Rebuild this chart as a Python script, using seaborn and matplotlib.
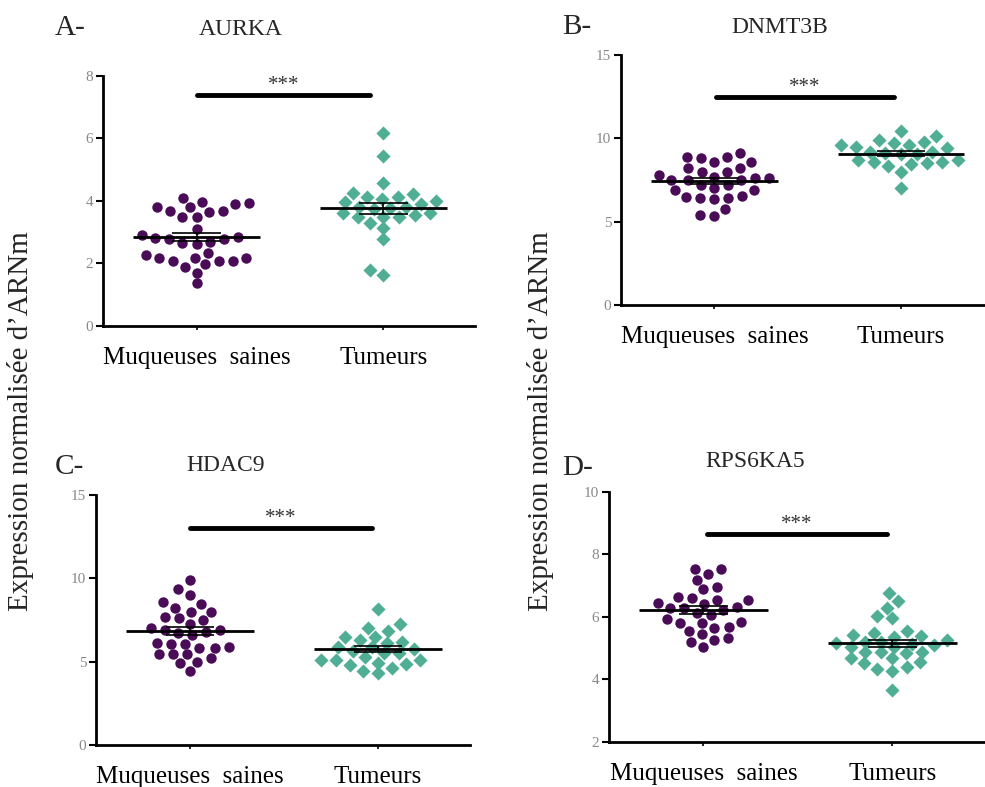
import numpy as np
import pandas as pd
import matplotlib
matplotlib.use('Agg')
import matplotlib.pyplot as plt
import seaborn as sns

# ------------------------------- data -------------------------------
groups = ['Muqueuses  saines', 'Tumeurs']

aurka_sain = [3.82, 3.69, 3.64, 3.93, 4.09, 3.98, 3.68, 3.80, 3.90, 3.50, 3.50,
              3.09, 2.77, 2.77, 2.86, 2.61, 2.65, 2.91, 2.80, 2.70,
              2.33, 2.27, 2.19, 2.19, 2.08, 2.08, 2.08, 2.19, 1.97, 1.90, 1.71, 1.37]
aurka_tum = [6.17, 5.45, 4.59, 4.27, 4.12, 4.21, 4.05, 4.14, 4.00, 3.98,
             3.55, 3.50, 3.77, 3.90, 3.73, 3.48, 3.48, 3.13, 3.61, 3.29,
             2.78, 1.79, 1.62, 3.82, 3.82, 3.60]

dnmt3b_sain = [9.1, 8.9, 8.6, 8.6, 8.8, 8.9, 8.2, 8.0, 8.0, 8.2,
               7.8, 7.6, 7.5, 7.5, 7.5, 7.6, 7.7, 7.04, 6.9, 6.9, 7.2, 7.2,
               6.5, 6.4, 6.36, 6.44, 6.56, 5.76, 5.36, 5.4]
dnmt3b_tum = [10.46, 10.14, 9.9, 9.74, 9.58, 9.5, 9.58, 9.8, 9.4, 9.2, 9.06, 9.1,
              9.06, 9.2, 8.7, 8.6, 8.46, 8.5, 8.6, 8.7, 8.36, 8.0, 7.04]

hdac9_sain = [9.9, 9.36, 9.0, 8.44, 8.56, 8.24, 8.0, 8.0, 7.64, 7.5, 7.7, 7.24, 7.0,
              6.9, 6.9, 6.8, 6.7, 6.6, 6.06, 5.9, 5.8, 6.14, 5.8, 6.06,
              5.44, 5.44, 5.44, 5.2, 5.0, 4.9, 4.46]
hdac9_tum = [8.16, 7.04, 7.24, 6.86, 6.5, 6.5, 6.1, 6.3, 6.2, 5.9, 5.66, 5.9, 5.74,
             5.5, 5.1, 4.86, 4.6, 5.1, 4.44, 4.3, 4.8, 4.94, 5.1, 5.3, 5.5]

rps6ka5_sain = [7.53, 7.55, 7.39, 7.18, 6.88, 6.97, 6.54, 6.6, 6.65, 6.54, 6.44, 6.41,
                6.28, 6.28, 6.22, 6.33, 6.12, 6.06, 5.85, 5.8, 5.82, 5.93, 5.64, 5.69,
                5.56, 5.46, 5.34, 5.27, 5.21, 5.05]
rps6ka5_tum = [6.78, 6.51, 6.28, 5.98, 6.03, 5.56, 5.5, 5.39, 5.37, 5.43, 5.1, 5.03,
               5.21, 5.14, 5.21, 5.27, 5.16, 5.05, 4.89, 4.84, 4.89, 4.89, 4.68, 4.68,
               4.52, 4.57, 4.33, 4.41, 4.28, 3.65]

genes = ['AURKA', 'DNMT3B', 'HDAC9', 'RPS6KA5']
letters = ['A-', 'B-', 'C-', 'D-']
yticks = [[0, 2, 4, 6, 8], [0, 5, 10, 15], [0, 5, 10, 15], [2, 4, 6, 8, 10]]
sig_bar = [7.4, 12.5, 13.0, 8.66]
sig_x = [(0.0, 0.93), (0.01, 0.96), (0.0, 0.97), (0.02, 0.97)]

values = {
    'AURKA': (aurka_sain, aurka_tum),
    'DNMT3B': (dnmt3b_sain, dnmt3b_tum),
    'HDAC9': (hdac9_sain, hdac9_tum),
    'RPS6KA5': (rps6ka5_sain, rps6ka5_tum),
}

purple = '#4a0b57'
teal = '#4fae93'

# ------------------------------- figure -------------------------------
sns.set_theme(style='ticks')
plt.rcParams['font.family'] = ['Liberation Serif', 'DejaVu Serif']

fig = plt.figure(figsize=(9.85, 7.87), dpi=100)

# axes rectangles in figure fractions
rects = [
    [0.1046, 0.5858, 0.3777, 0.3177],
    [0.6305, 0.6125, 0.3695, 0.3177],
    [0.0975, 0.0534, 0.3797, 0.3177],
    [0.6183, 0.0572, 0.3817, 0.3177],
]
xlims = [(-0.5, 1.49), (-0.5, 1.45), (-0.5, 1.49), (-0.5, 1.49)]
title_pos = [(0.244, 0.962), (0.792, 0.965), (0.229, 0.409), (0.767, 0.413)]
letter_pos = [(0.056, 0.965), (0.571, 0.966), (0.056, 0.406), (0.571, 0.405)]

# GraphPad spreads the dots wider than a tight swarm
spread = {purple: 1.3, teal: 1.5}

axes = []
for i, gene in enumerate(genes):
    ax = fig.add_axes(rects[i])
    axes.append(ax)
    sain, tum = values[gene]
    df = pd.DataFrame({
        'groupe': [groups[0]] * len(sain) + [groups[1]] * len(tum),
        'expr': list(sain) + list(tum),
    })
    sns.swarmplot(data=df[df['groupe'] == groups[0]], x='groupe', y='expr', order=groups,
                  color=purple, marker='o', size=7.5, ax=ax, linewidth=0)
    sns.swarmplot(data=df[df['groupe'] == groups[1]], x='groupe', y='expr', order=groups,
                  color=teal, marker='D', size=7.2, ax=ax, linewidth=0)

    # mean and SEM
    for j, vals in enumerate([sain, tum]):
        m = np.mean(vals)
        sem = np.std(vals, ddof=1) / np.sqrt(len(vals))
        ax.hlines(m, j - 0.34, j + 0.34, color='black', lw=2, zorder=5)
        ax.hlines([m - sem, m + sem], j - 0.13, j + 0.13, color='black', lw=1.2, zorder=5)
        ax.vlines(j, m - sem, m + sem, color='black', lw=1.2, zorder=5)

    # significance bar
    ax.plot(sig_x[i], [sig_bar[i], sig_bar[i]], color='black', lw=3.5, solid_capstyle='round')
    ax.text(np.mean(sig_x[i]), sig_bar[i], '***', ha='center', va='bottom',
            fontsize=15, color='#333333')

    ax.set_ylim(yticks[i][0], yticks[i][-1])
    ax.set_xlim(*xlims[i])
    ax.set_yticks(yticks[i])
    ax.set_xlabel('')
    ax.set_ylabel('')
    ax.tick_params(axis='y', labelsize=11, labelcolor='#888888', length=5, width=1.5,
                   color='black', pad=2)
    ax.tick_params(axis='x', labelsize=18, labelcolor='black', length=3, width=1.2,
                   color='black', pad=12)
    for s in ['top', 'right']:
        ax.spines[s].set_visible(False)
    for s in ['left', 'bottom']:
        ax.spines[s].set_linewidth(2)
        ax.spines[s].set_color('black')
    ax.patch.set_alpha(0)

    fig.text(title_pos[i][0], title_pos[i][1], gene, ha='center', va='center', fontsize=17)
    fig.text(letter_pos[i][0], letter_pos[i][1], letters[i], ha='left', va='center', fontsize=21)

ylabel = 'Expression normalisée d\u2019ARNm'
fig.text(0.021, 0.465, ylabel, rotation=90, ha='center', va='center', fontsize=21)
fig.text(0.549, 0.465, ylabel, rotation=90, ha='center', va='center', fontsize=21)

# let seaborn lay out the swarms once, then widen them around the category centre
fig.canvas.draw()
for ax in axes:
    for coll in ax.collections:
        off = np.array(coll.get_offsets())
        if len(off) == 0 or 'draw' not in coll.__dict__:
            continue
        centre = np.round(np.median(off[:, 0]))
        fc = matplotlib.colors.to_hex(coll.get_facecolor()[0])
        off[:, 0] = centre + (off[:, 0] - centre) * spread.get(fc, 1.4)
        del coll.draw
        coll.set_offsets(off)

fig.savefig('out.png', dpi=100)
